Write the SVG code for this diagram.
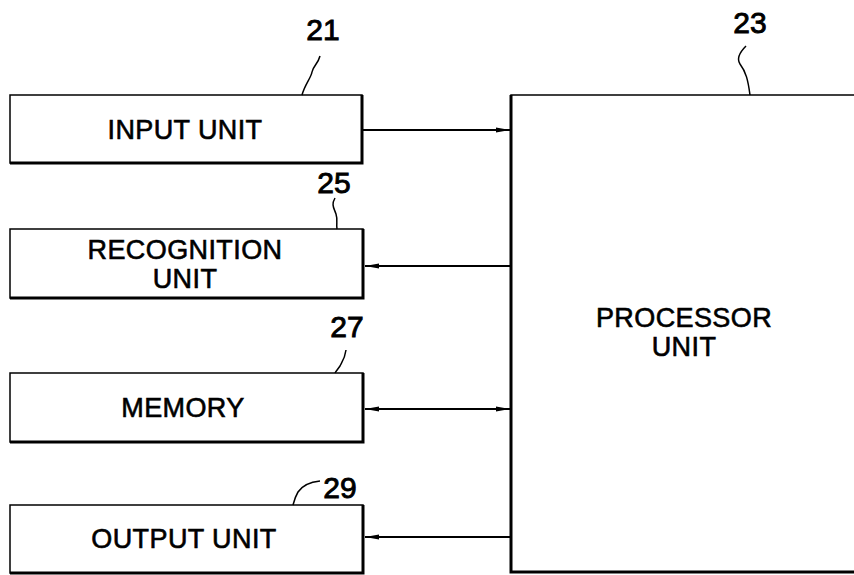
<svg xmlns="http://www.w3.org/2000/svg" width="854" height="575" viewBox="0 0 854 575">
<style>
.box{fill:#fff;stroke:#000;stroke-width:1.5}
.shadow{fill:none;stroke:#000;stroke-width:3}
.t{font-family:"Liberation Sans",Arial,sans-serif;font-size:27px;letter-spacing:0.4px;text-anchor:middle;fill:#000;stroke:#000;stroke-width:0.6}
.num{font-family:"Liberation Sans",Arial,sans-serif;font-size:30px;text-anchor:middle;fill:#000;stroke:#000;stroke-width:0.9}
.lead{fill:none;stroke:#000;stroke-width:1.5}
.conn{fill:none;stroke:#000;stroke-width:1.8}
</style>
<defs>
<marker id="ah" viewBox="0 0 14 6" refX="14" refY="3" markerWidth="14" markerHeight="6" markerUnits="userSpaceOnUse" orient="auto-start-reverse">
<path d="M0,0.5 L14,3 L0,5.5 Z" fill="#000"/>
</marker>
</defs>
<g id="connectors">
<line class="conn" x1="363" y1="130" x2="510" y2="130" marker-end="url(#ah)"/>
<line class="conn" x1="510" y1="266" x2="365" y2="266" marker-end="url(#ah)"/>
<line class="conn" x1="365" y1="409" x2="510" y2="409" marker-start="url(#ah)" marker-end="url(#ah)"/>
<line class="conn" x1="510" y1="537" x2="365" y2="537" marker-end="url(#ah)"/>
</g>
<g id="input-unit">
<rect class="box" x="10" y="95" width="352" height="68"/>
<path class="shadow" d="M362,95 V163 H10"/>
<text class="t" x="185" y="139">INPUT UNIT</text>
<text class="num" x="323" y="40">21</text>
<path class="lead" d="M320,56 C318,64 313,66 312,72 C311,78 305,84 302,95"/>
</g>
<g id="recognition-unit">
<rect class="box" x="10" y="229" width="353" height="69"/>
<path class="shadow" d="M363,229 V298 H10"/>
<text class="t" x="185" y="259">RECOGNITION</text>
<text class="t" x="185" y="288">UNIT</text>
<text class="num" x="334" y="193">25</text>
<path class="lead" d="M335,198 C331,205 334,208 336,214 C338,220 336,224 337,229"/>
</g>
<g id="memory">
<rect class="box" x="10" y="373" width="353" height="69"/>
<path class="shadow" d="M363,373 V442 H10"/>
<text class="t" x="183" y="417">MEMORY</text>
<text class="num" x="347" y="337">27</text>
<path class="lead" d="M346,350 C345,358 342,362 340,366 C338,369 336,371 335,373"/>
</g>
<g id="output-unit">
<rect class="box" x="10" y="505" width="353" height="68"/>
<path class="shadow" d="M363,505 V573 H10"/>
<text class="t" x="184" y="548">OUTPUT UNIT</text>
<text class="num" x="340" y="498">29</text>
<path class="lead" d="M320,481 C310,482 302,486 298,492 C295,497 294,501 293,505"/>
</g>
<g id="processor-unit">
<rect class="box" x="511" y="95" width="360" height="477"/>
<path class="shadow" d="M511,95 V572 H860"/>
<text class="t" x="684" y="327">PROCESSOR</text>
<text class="t" x="684" y="356">UNIT</text>
<text class="num" x="750" y="33">23</text>
<path class="lead" d="M746,46 C740,52 736,58 740,64 C746,72 748,80 750,95"/>
</g>
</svg>
